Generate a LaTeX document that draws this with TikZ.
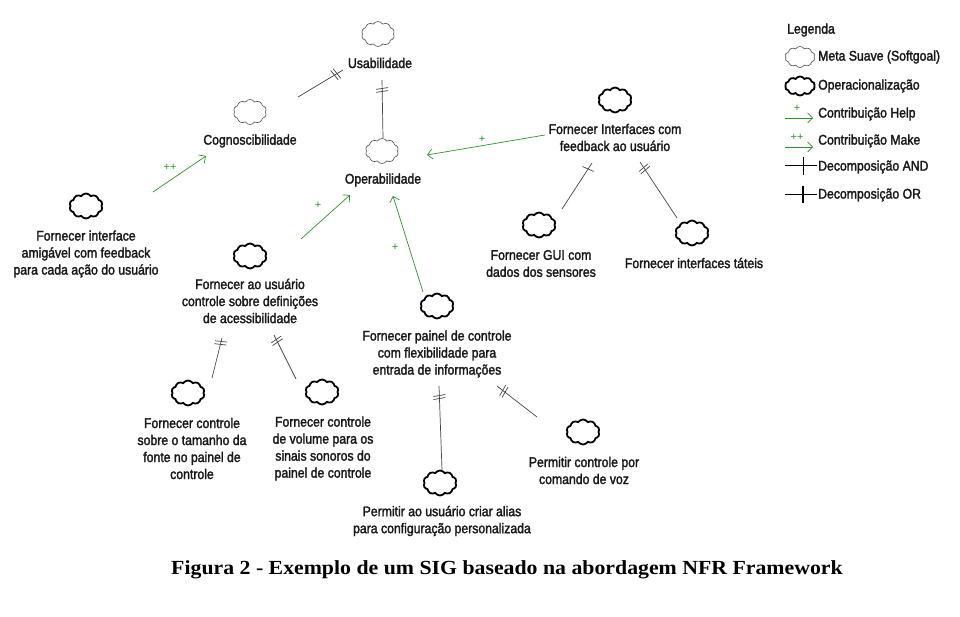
\documentclass[tikz,border=0pt]{standalone}
\usepackage{fontspec}
\setmainfont{Liberation Sans}
\newfontfamily\narrowfont{Liberation Sans}[FakeStretch=0.875,FakeBold=2]
\newfontfamily\capfont{Liberation Serif}[FakeStretch=1.09]
\usetikzlibrary{shapes.symbols,arrows.meta,decorations.markings}
\definecolor{contribgreen}{RGB}{40,150,40}
\definecolor{linegray}{RGB}{70,70,70}
\tikzset{
  cloudbase/.style={cloud, cloud puffs=10, cloud puff arc=115, aspect=1.35,
    minimum width=33pt, minimum height=25pt, inner sep=0pt},
  softgoal/.style={cloudbase, draw=black!70, line width=0.6pt},
  operac/.style={cloudbase, draw=black, line width=1.8pt},
  lbl/.style={font=\narrowfont\fontsize{14}{17}\selectfont, align=center, inner sep=0pt, text=black!90},
  legtxt/.style={font=\narrowfont\fontsize{14}{17}\selectfont, anchor=west, inner sep=0pt, text=black!90},
  plus/.style={font=\fontsize{11}{11}\selectfont, text=contribgreen, inner sep=0pt},
  decomp/.style={draw=linegray, line width=0.7pt},
  ortick/.style={decoration={markings, mark=at position #1 with {
      \draw[linegray, line width=0.7pt] (-2.2,-6) -- (-0.6,6);
      \draw[linegray, line width=0.7pt] (0.8,-6) -- (2.4,6);}}, postaction={decorate}},
  andtick/.style={decoration={markings, mark=at position #1 with {
      \draw[linegray, line width=0.7pt] (-1,-6) -- (1,6);}}, postaction={decorate}},
  contrib/.style={draw=contribgreen, line width=0.7pt, -{Straight Barb[length=5pt,width=10pt]}},
}
\begin{document}
\begin{tikzpicture}[x=1pt,y=-1pt]
\useasboundingbox[fill=white] (0,0) rectangle (960,617);

% ---- goals ----
\node[softgoal] (usabC) at (378,34) {};
\node[lbl] (usabT) at (380,63) {Usabilidade};
\node[softgoal] (cognC) at (250,112) {};
\node[lbl] (cognT) at (250,141) {Cognoscibilidade};
\node[softgoal] (operC) at (382,151) {};
\node[lbl] (operT) at (383,180) {Operabilidade};

% ---- operationalizations ----
\node[operac] (amigC) at (86,206) {};
\node[lbl] (amigT) at (86,254) {Fornecer interface\\amigável com feedback\\para cada ação do usuário};
\node[operac] (acesC) at (250,256) {};
\node[lbl] (acesT) at (250,301) {Fornecer ao usuário\\controle sobre definições\\de acessibilidade};
\node[operac] (feedC) at (615,100) {};
\node[lbl] (feedT) at (615,137.5) {Fornecer Interfaces com\\feedback ao usuário};
\node[operac] (guiC) at (539,225) {};
\node[lbl] (guiT) at (541,263.5) {Fornecer GUI com\\dados dos sensores};
\node[operac] (tatC) at (692,233) {};
\node[lbl] (tatT) at (694,263) {Fornecer interfaces táteis};
\node[operac] (painC) at (437,306) {};
\node[lbl] (painT) at (437,354) {Fornecer painel de controle\\com flexibilidade para\\entrada de informações};
\node[operac] (aliaC) at (440,483) {};
\node[lbl] (aliaT) at (442,521) {Permitir ao usuário criar alias\\para configuração personalizada};
\node[operac] (vozC) at (583,432) {};
\node[lbl] (vozT) at (584,470.5) {Permitir controle por\\comando de voz};
\node[operac] (fontC) at (188,393) {};
\node[lbl] (fontT) at (192,448.5) {Fornecer controle\\sobre o tamanho da\\fonte no painel de\\controle};
\node[operac] (volC) at (322,392) {};
\node[lbl] (volT) at (323,448.5) {Fornecer controle\\de volume para os\\sinais sonoros do\\painel de controle};

% ---- decomposition links ----
\coordinate (d1a) at (343,70);  \coordinate (d1b) at (298,97);
\coordinate (d2a) at (382,80);  \coordinate (d2b) at (383,138);
\coordinate (d3a) at (592,163); \coordinate (d3b) at (562,209);
\coordinate (d4a) at (640,162); \coordinate (d4b) at (677,218);
\coordinate (d5a) at (222,338); \coordinate (d5b) at (212,378);
\coordinate (d6a) at (274,335); \coordinate (d6b) at (296,379);
\coordinate (d7a) at (439,386); \coordinate (d7b) at (442,470);
\coordinate (d8a) at (497,386); \coordinate (d8b) at (537,417);
\draw[decomp, ortick=0.16] (d1a) -- (d1b);
\draw[decomp, ortick=0.17] (d2a) -- (d2b);
\draw[decomp, andtick=0.13] (d3a) -- (d3b);
\draw[decomp, ortick=0.12] (d4a) -- (d4b);
\draw[decomp, ortick=0.12] (d5a) -- (d5b);
\draw[decomp, ortick=0.13] (d6a) -- (d6b);
\draw[decomp, ortick=0.13] (d7a) -- (d7b);
\draw[decomp, ortick=0.17] (d8a) -- (d8b);

% ---- contribution links ----
\coordinate (c1a) at (153,192); \coordinate (c1b) at (206,156);
\coordinate (c2a) at (301,239); \coordinate (c2b) at (350,195);
\coordinate (c3a) at (423,292); \coordinate (c3b) at (393,196);
\coordinate (c4a) at (545,135); \coordinate (c4b) at (427,155);
\draw[contrib] (c1a) -- (c1b);
\draw[contrib] (c2a) -- (c2b);
\draw[contrib] (c3a) -- (c3b);
\draw[contrib] (c4a) -- (c4b);
\node[plus] (p1) at (170,167) {++};
\node[plus] (p2) at (318,205) {+};
\node[plus] (p3) at (395,247) {+};
\node[plus] (p4) at (482,139) {+};

% ---- legend ----
\node[legtxt] (legT) at (787,30) {Legenda};
\node[softgoal, minimum width=30pt, minimum height=21pt] (legSoft) at (800,57) {};
\node[legtxt] (legSoftT) at (818,57) {Meta Suave (Softgoal)};
\node[operac, minimum width=30pt, minimum height=19pt] (legOper) at (800,86) {};
\node[legtxt] (legOperT) at (818,86) {Operacionalização};
\coordinate (lh1) at (785,118); \coordinate (lh2) at (813,118);
\draw[contrib] (lh1) -- (lh2);
\node[plus] (lhp) at (797,108) {+};
\node[legtxt] (legHelpT) at (818,114) {Contribuição Help};
\coordinate (lm1) at (785,147); \coordinate (lm2) at (813,147);
\draw[contrib] (lm1) -- (lm2);
\node[plus] (lmp) at (797,137) {++};
\node[legtxt] (legMakeT) at (818,141) {Contribuição Make};
\coordinate (la1) at (785,165); \coordinate (la2) at (817,165);
\coordinate (la3) at (803,157); \coordinate (la4) at (803,175);
\draw[black, line width=0.7pt] (la1) -- (la2);
\draw[black, line width=0.7pt] (la3) -- (la4);
\node[legtxt] (legAndT) at (818,167) {Decomposição AND};
\coordinate (lo1) at (785,194); \coordinate (lo2) at (817,194);
\coordinate (lo3) at (803,186); \coordinate (lo4) at (803,203);
\draw[black, line width=0.7pt] (lo1) -- (lo2);
\draw[black, line width=1.8pt] (lo3) -- (lo4);
\node[legtxt] (legOrT) at (818,195) {Decomposição OR};

% ---- caption ----
\node[font=\capfont\bfseries\fontsize{20}{23}\selectfont, inner sep=0pt] (caption) at (507,570)
  {Figura 2 - Exemplo de um SIG baseado na abordagem NFR Framework};
\end{tikzpicture}
\end{document}
